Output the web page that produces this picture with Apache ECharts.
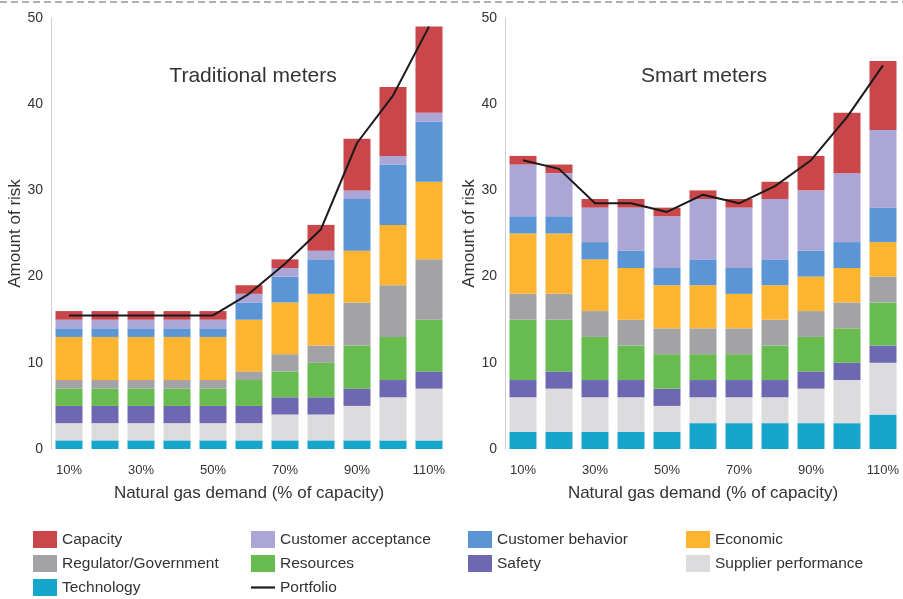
<!DOCTYPE html>
<html>
<head>
<meta charset="utf-8">
<script src="https://cdn.jsdelivr.net/npm/echarts@6/dist/echarts.min.js"></script>
<style>
html,body{margin:0;padding:0;background:#fff;}
#chart{width:903px;height:599px;}
</style>
</head>
<body>
<div id="chart"></div>
<script>
// ---- data ----
const categories = ['10%','20%','30%','40%','50%','60%','70%','80%','90%','100%','110%'];
const seriesNames = ['Technology','Supplier performance','Safety','Resources','Regulator/Government','Economic','Customer behavior','Customer acceptance','Capacity'];

// Traditional meters (bottom to top)
const tradTechnology   = [1,1,1,1,1,1,1,1,1,1,1];
const tradSupplier     = [2,2,2,2,2,2,3,3,4,5,6];
const tradSafety       = [2,2,2,2,2,2,2,2,2,2,2];
const tradResources    = [2,2,2,2,2,3,3,4,5,5,6];
const tradRegulator    = [1,1,1,1,1,1,2,2,5,6,7];
const tradEconomic     = [5,5,5,5,5,6,6,6,6,7,9];
const tradBehavior     = [1,1,1,1,1,2,3,4,6,7,7];
const tradAcceptance   = [1,1,1,1,1,1,1,1,1,1,1];
const tradCapacity     = [1,1,1,1,1,1,1,3,6,8,10];
const tradPortfolio    = [15.5,15.5,15.5,15.5,15.5,18,21.5,25.5,35.5,41,49];

// Smart meters (bottom to top)
const smartTechnology  = [2,2,2,2,2,3,3,3,3,3,4];
const smartSupplier    = [4,5,4,4,3,3,3,3,4,5,6];
const smartSafety      = [2,2,2,2,2,2,2,2,2,2,2];
const smartResources   = [7,6,5,4,4,3,3,4,4,4,5];
const smartRegulator   = [3,3,3,3,3,3,3,3,3,3,3];
const smartEconomic    = [7,7,6,6,5,5,4,4,4,4,4];
const smartBehavior    = [2,2,2,2,2,3,3,3,3,3,4];
const smartAcceptance  = [6,5,4,5,6,7,7,7,7,8,9];
const smartCapacity    = [1,1,1,1,1,1,1,2,4,7,8];
const smartPortfolio   = [33.5,32.5,28.5,28.5,27.5,29.5,28.5,30.5,33.5,38.5,44.5];

const yTicks = [0,10,20,30,40,50];

// ---- styles ----
const colors = {
  'Technology':'#17a6cb',
  'Supplier performance':'#dcdcdf',
  'Safety':'#6e67b1',
  'Resources':'#67bb4f',
  'Regulator/Government':'#a3a3a6',
  'Economic':'#fcb431',
  'Customer behavior':'#5b95d5',
  'Customer acceptance':'#aba6d5',
  'Capacity':'#c9474b'
};
const FONT = 'Liberation Sans';
const tradData = [tradTechnology,tradSupplier,tradSafety,tradResources,tradRegulator,tradEconomic,tradBehavior,tradAcceptance,tradCapacity];
const smartData = [smartTechnology,smartSupplier,smartSafety,smartResources,smartRegulator,smartEconomic,smartBehavior,smartAcceptance,smartCapacity];

const chart = echarts.init(document.getElementById('chart'), null, {renderer:'canvas'});

function xAxis(gridIndex){
  return {
    type:'category', gridIndex, data:categories,
    axisLine:{show:false}, axisTick:{show:false},
    axisLabel:{color:'#333', fontSize:13, fontFamily:FONT, margin:15},
    name:'Natural gas demand (% of capacity)', nameLocation:'middle', nameGap:36,
    nameTextStyle:{color:'#333', fontSize:17, fontFamily:FONT}
  };
}
function yAxis(gridIndex){
  return {
    type:'value', gridIndex, min:yTicks[0], max:yTicks[yTicks.length-1], interval:10,
    axisLine:{show:true, lineStyle:{color:'#cfcfcf', width:1}},
    axisTick:{show:false}, splitLine:{show:false},
    axisLabel:{color:'#333', fontSize:14, fontFamily:FONT, margin:8},
    name:'Amount of risk', nameLocation:'middle', nameGap:26,
    nameTextStyle:{color:'#333', fontSize:17, fontFamily:FONT}
  };
}

const series = [];
[tradData, smartData].forEach((set, gi) => {
  set.forEach((vals, i) => {
    series.push({
      type:'bar', name:seriesNames[i], stack:'s'+gi,
      xAxisIndex:gi, yAxisIndex:gi, data:vals, barWidth:27,
      itemStyle:{color:colors[seriesNames[i]]}, emphasis:{disabled:true}
    });
  });
  series.push({
    type:'line', name:'Portfolio', xAxisIndex:gi, yAxisIndex:gi,
    data: gi===0 ? tradPortfolio : smartPortfolio,
    symbol:'none', z:10,
    lineStyle:{color:'#1a1a1a', width:2}, itemStyle:{color:'#1a1a1a'}
  });
});

function legend(left, names){
  return {
    type:'plain', orient:'vertical', left, top:531, padding:0,
    itemWidth:24, itemHeight:17, itemGap:7, icon:'rect',
    selectedMode:false,
    data:names.map(n => n==='Portfolio'
      ? {name:n, icon:'path://M0,0 L24,0 L24,2.2 L0,2.2 Z', itemStyle:{color:'#1a1a1a'}}
      : n),
    textStyle:{color:'#333', fontSize:15.5, fontFamily:FONT, lineHeight:17}
  };
}

chart.setOption({
  animation:false,
  backgroundColor:'#fff',
  title:[
    {text:'Traditional meters', left:248, top:61, textAlign:'center',
     textStyle:{color:'#333', fontSize:21, fontWeight:'normal', fontFamily:FONT}},
    {text:'Smart meters', left:699, top:61, textAlign:'center',
     textStyle:{color:'#333', fontSize:21, fontWeight:'normal', fontFamily:FONT}}
  ],
  grid:[
    {left:51, top:18, width:396, height:431},
    {left:505, top:18, width:396, height:431}
  ],
  xAxis:[xAxis(0), xAxis(1)],
  yAxis:[yAxis(0), yAxis(1)],
  legend:[
    legend(33, ['Capacity','Regulator/Government','Technology']),
    legend(251, ['Customer acceptance','Resources','Portfolio']),
    legend(468, ['Customer behavior','Safety']),
    legend(686, ['Economic','Supplier performance'])
  ],
  graphic:[
    {type:'line', shape:{x1:0,y1:2,x2:903,y2:2}, style:{stroke:'#b0b0b0', lineWidth:2, lineDash:[7,4]}, silent:true}
  ],
  series
});
</script>
</body>
</html>
